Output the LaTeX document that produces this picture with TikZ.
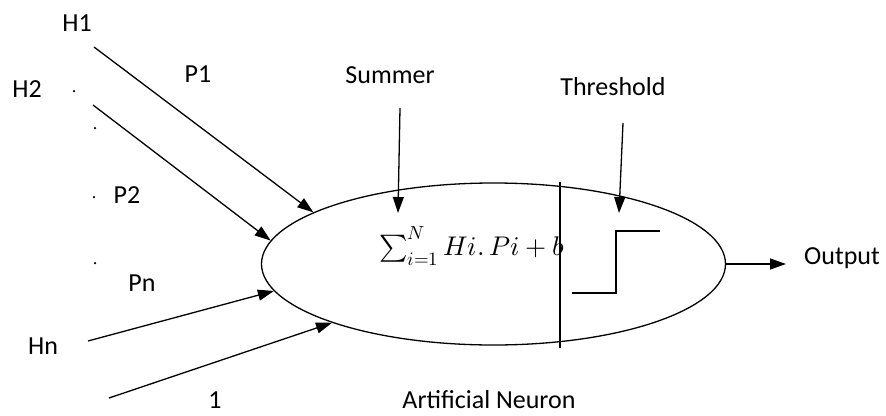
\documentclass[tikz,border=0pt]{standalone}
\usepackage{fontspec}
\setmainfont{Carlito}
\usepackage{unicode-math}
\setmathfont{Latin Modern Math}
\usetikzlibrary{positioning,calc,arrows.meta,shapes.geometric}

\tikzset{
  wire/.style={line width=1.3pt, -{Triangle[length=16pt,width=11pt]}},
  lbl/.style={font=\fontsize{26}{30}\selectfont, inner sep=0pt},
  speck/.style={circle, fill, inner sep=0pt, minimum size=2.5pt},
}

\begin{document}
\begin{tikzpicture}[x=1pt,y=-1pt]
\useasboundingbox (0,0) rectangle (886,415);

\def\cx{493.5}
\def\cy{264}
\def\rx{232}
\def\ry{81}

% --- neuron body ---
\node[ellipse, draw, line width=1.3pt, inner sep=0pt,
      minimum width=2*\rx, minimum height=2*\ry] (neuron) at (\cx,\cy) {};
\coordinate (divTop) at (560,182);
\coordinate (divBot) at (560,348);
\draw[line width=1.3pt] (divTop) -- (divBot);

% --- summation ---
\node[anchor=base west, inner sep=0pt, font=\fontsize{27}{32}\selectfont]
  (sumf) at (379,255) {$\sum_{i=1}^{N} Hi.\,Pi+b$};

% --- step function ---
\coordinate (stepA) at (572,293);
\coordinate (stepB) at (616,293);
\coordinate (stepC) at (616,231);
\coordinate (stepD) at (660,231);
\draw[line width=1.3pt] (stepA) -- (stepB) -- (stepC) -- (stepD);

% --- input labels ---
\node[lbl] (h1) at (77,23) {H1};
\node[lbl] (h2) at (27,89) {H2};
\node[lbl] (hn) at (43,346) {Hn};
\node[lbl] (one) at (215,400) {1};
\node[lbl] (p1) at (198,74) {P1};
\node[lbl] (p2) at (127,195) {P2};
\node[lbl] (pn) at (142,283) {Pn};

% stray dots between H2 and Hn
\node[speck] (d0) at (74,91) {};
\node[speck] (d1) at (95,128) {};
\node[speck] (d2) at (94,197) {};
\node[speck] (d3) at (95,263) {};

% --- inputs ---
\coordinate (inH1) at (94,47);
\coordinate (inH2) at (93,105);
\coordinate (inHn) at (88,341);
\coordinate (inOne) at (109,398);
\draw[wire] (inH1) -- (neuron.164);
\draw[wire] (inH2) -- (neuron.174);
\draw[wire] (inHn) -- (neuron.187.5);
\draw[wire] (inOne) -- (neuron.200);

% --- summer / threshold pointers ---
\node[lbl] (summer) at (390,75) {Summer};
\node[lbl] (thresh) at (613,87) {Threshold};
\coordinate (sumTop) at (400,108);
\coordinate (sumTip) at (398,213);
\coordinate (thrTop) at (623,123);
\coordinate (thrTip) at (619,213);
\draw[wire] (sumTop) -- (sumTip);
\draw[wire] (thrTop) -- (thrTip);

% --- output ---
\coordinate (outTip) at (786,264);
\draw[wire] (neuron.east) -- (outTip);
\node[lbl] (output) at (842,258) {Output};

\node[lbl] (title) at (489,400) {Artificial Neuron};

\end{tikzpicture}
\end{document}
